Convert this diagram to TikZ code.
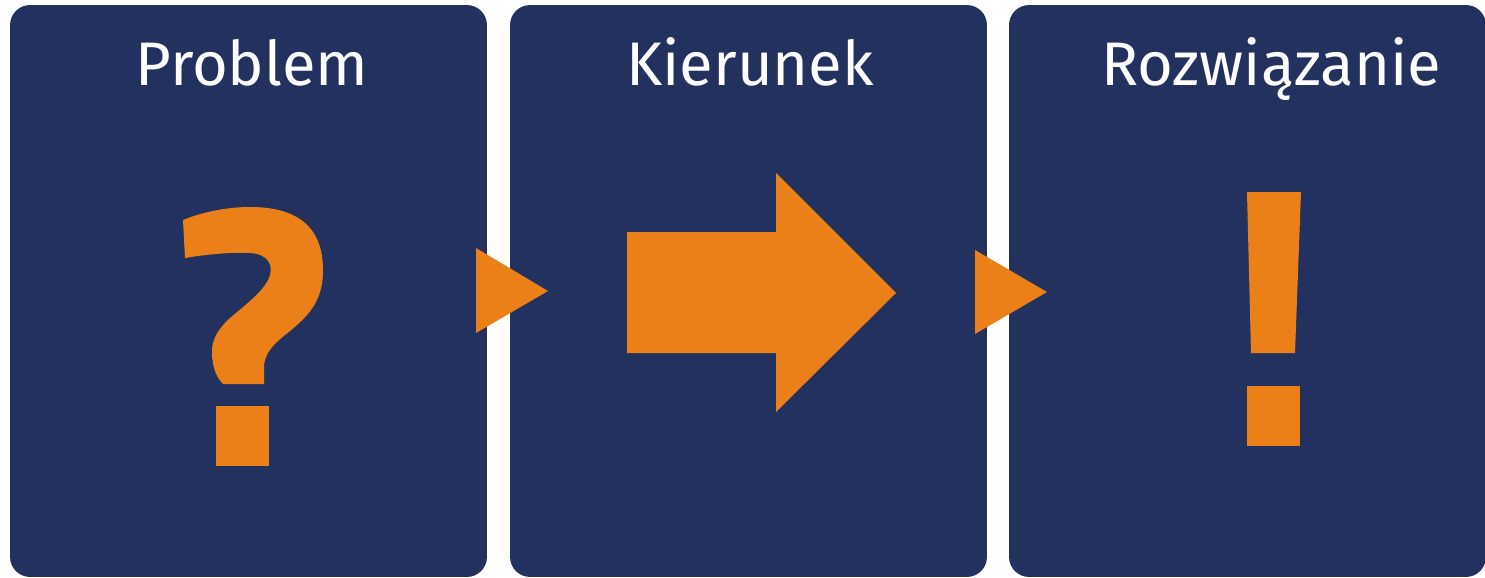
\documentclass[tikz,border=0pt]{standalone}
\usepackage{fontspec}
\setmainfont{Fira Sans}
\definecolor{panelnavy}{RGB}{35, 49, 94}
\definecolor{signorange}{RGB}{236, 128, 24}
\usetikzlibrary{positioning}

\begin{document}
\begin{tikzpicture}[x=0.02cm, y=-0.02cm,
  panel/.style={fill=panelnavy, rounded corners=0.4cm, minimum width=9.54cm, minimum height=11.44cm, inner sep=0pt},
  heading/.style={text=white, font=\fontsize{35}{42}\selectfont, anchor=base, inner sep=0pt},
  sign/.style={fill=signorange}]
  \useasboundingbox (0, 0) rectangle (1485, 578);

  % Panels
  \node[panel] (problem) at (248.5, 291) {};
  \node[panel] (kierunek) at (748.5, 291) {};
  \node[panel] (rozw) at (1247.5, 291) {};

  % Headings
  \node[heading] (problemtxt) at (252, 85) {Problem};
  \node[heading] (kierunektxt) at (750, 85) {Kierunek};
  \node[heading] (rozwtxt) at (1271, 85) {Rozwiązanie};

  % Small pointers between panels
  \fill[sign] (476, 248) -- (548, 291) -- (476, 333) -- cycle;
  \fill[sign] (975, 250) -- (1047, 292) -- (975, 334) -- cycle;

  % Question mark
  \fill[sign] (183, 220) -- (185, 258)
    .. controls (208, 254) and (235, 252) .. (250, 253)
    .. controls (268, 254) and (273, 265) .. (270, 275)
    .. controls (266, 290) and (245, 305) .. (230, 318)
    .. controls (215, 332) and (212, 342) .. (212, 352)
    .. controls (212, 368) and (217, 378) .. (223, 384)
    -- (264, 384) -- (264, 368)
    .. controls (264, 352) and (275, 343) .. (290, 331)
    .. controls (312, 313) and (323, 298) .. (323, 270)
    .. controls (323, 225) and (295, 207) .. (250, 207)
    .. controls (225, 207) and (200, 213) .. (183, 220) -- cycle;
  \fill[sign] (216, 406) rectangle (269, 466);

  % Big arrow
  \fill[sign] (627, 232) -- (776, 232) -- (776, 173) -- (896, 293)
    -- (776, 412) -- (776, 353) -- (627, 353) -- cycle;

  % Exclamation mark
  \fill[sign] (1247, 192) -- (1301, 192) -- (1295, 353) -- (1251, 353) -- cycle;
  \fill[sign] (1247, 386) rectangle (1300, 446);
\end{tikzpicture}
\end{document}
